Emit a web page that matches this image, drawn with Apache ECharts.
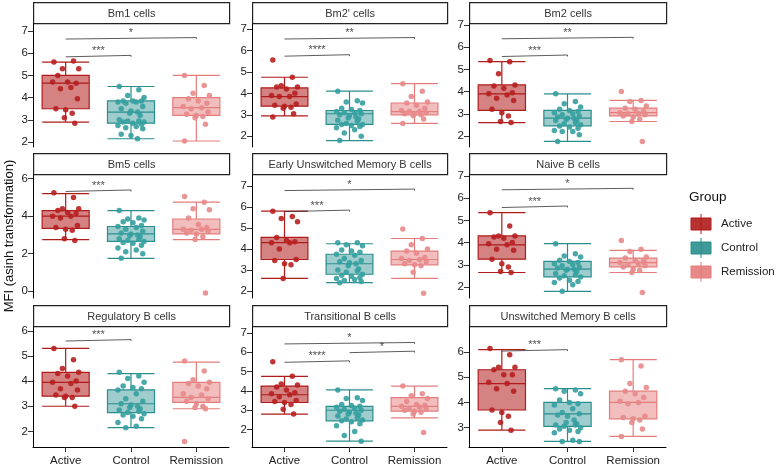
<!DOCTYPE html>
<html>
<head>
<meta charset="utf-8">
<script src="https://cdn.jsdelivr.net/npm/echarts@6/dist/echarts.min.js"></script>
<style>html,body{margin:0;background:#fff}#chart{width:778px;height:467px}</style>
</head>
<body>
<div id="chart"></div>
<script>
// 群と色
const groups = ['Active', 'Control', 'Remission'];
const panelTitles = ['Bm1 cells', "Bm2' cells", 'Bm2 cells', 'Bm5 cells', 'Early Unswitched Memory B cells', 'Naive B cells', 'Regulatory B cells', 'Transitional B cells', 'Unswitched Memory B cells'];

// 各パネルの点（Active, Control, Remission）
const ptsBm1 = [
  [5.6,5.65,5.3,5.3,5.0,4.7,4.65,4.7,4.45,4.4,3.95,3.5,3.45,3.3,3.1,2.85],
  [4.5,4.35,4.1,4.0,3.85,3.85,3.85,3.8,3.8,3.75,3.6,3.5,3.4,3.35,3.3,3.2,3.0,2.95,2.95,2.9,2.9,2.85,2.8,2.75,2.7,2.65,2.6,2.35,2.3,2.15],
  [5.0,4.55,4.2,4.1,3.95,3.85,3.75,3.6,3.55,3.5,3.35,3.25,3.2,3.15,3.1,2.8,2.05]];
const ptsBm2p = [
  [5.55,4.75,4.35,4.3,4.3,4.2,4.0,3.9,3.85,3.85,3.5,3.45,3.4,3.35,3.3,3.05,2.9],
  [4.1,3.65,3.6,3.55,3.3,3.25,3.2,3.15,3.1,3.1,3.05,3.0,2.95,2.9,2.85,2.8,2.75,2.7,2.6,2.55,2.55,2.5,2.45,2.4,2.3,2.15,2.0,1.8],
  [4.45,4.1,3.85,3.6,3.55,3.45,3.3,3.2,3.15,3.15,3.1,3.05,3.05,3.0,2.95,2.8,2.6]];
const ptsBm2 = [
  [5.4,5.35,4.8,4.3,4.25,4.15,3.95,3.9,3.85,3.7,3.6,3.2,3.05,2.9,2.65,2.6],
  [3.9,3.55,3.45,3.3,3.2,3.15,3.1,3.05,3.0,2.95,2.9,2.85,2.8,2.8,2.75,2.7,2.7,2.6,2.55,2.5,2.45,2.4,2.35,2.25,2.2,2.2,2.05,1.75],
  [4.0,3.6,3.55,3.35,3.25,3.2,3.1,3.05,3.0,3.0,2.95,2.9,2.85,2.75,2.65,1.75]];
const ptsBm5 = [
  [5.25,5.0,4.4,4.4,4.3,4.2,4.15,4.0,4.0,3.9,3.5,3.4,3.3,3.25,2.8,2.7],
  [4.3,3.9,3.85,3.8,3.7,3.65,3.5,3.45,3.4,3.3,3.2,3.1,3.05,3.0,2.95,2.9,2.8,2.75,2.7,2.65,2.6,2.55,2.45,2.3,2.2,2.1,2.0,1.75],
  [5.05,4.75,4.4,4.35,3.9,3.55,3.4,3.3,3.3,3.25,3.2,3.1,3.05,2.9,2.75,-0.1]];
const ptsEarly = [
  [5.8,5.55,5.45,5.3,4.55,4.4,4.35,4.3,4.3,4.0,3.5,3.45,3.3,3.25,2.6],
  [4.3,4.3,4.2,4.15,3.95,3.9,3.85,3.75,3.7,3.55,3.45,3.4,3.35,3.3,3.2,3.05,3.0,2.95,2.9,2.8,2.75,2.7,2.65,2.6,2.55,2.5,2.45,2.4],
  [4.95,4.5,4.2,4.0,3.9,3.8,3.6,3.55,3.5,3.45,3.4,3.3,3.25,3.2,2.9,1.9]];
const ptsNaive = [
  [5.35,4.75,4.3,4.3,4.25,4.2,4.0,3.95,3.9,3.7,3.65,3.25,3.05,2.9,2.7,2.65],
  [3.95,3.5,3.4,3.35,3.2,3.15,3.1,3.05,3.0,2.95,2.9,2.85,2.8,2.8,2.75,2.7,2.6,2.55,2.5,2.45,2.4,2.3,2.25,2.2,2.1,1.8],
  [4.1,3.7,3.6,3.35,3.3,3.2,3.15,3.1,3.05,3.0,2.95,2.9,2.8,2.75,2.65,1.75]];
const ptsReg = [
  [5.3,4.85,4.5,4.35,4.3,4.2,4.0,3.95,3.9,3.7,3.65,3.45,3.4,3.35,3.35,3.0],
  [4.35,4.2,4.1,3.95,3.8,3.75,3.7,3.65,3.5,3.3,3.2,3.1,3.05,3.0,2.95,2.9,2.85,2.8,2.75,2.7,2.65,2.6,2.5,2.35,2.2,2.15],
  [4.8,4.4,4.05,3.95,3.9,3.8,3.7,3.5,3.45,3.35,3.3,3.2,3.1,3.0,2.95,2.9,1.6]];
const ptsTrans = [
  [5.5,4.75,4.35,4.3,4.2,4.05,3.9,3.85,3.8,3.7,3.5,3.45,3.4,3.3,3.05,2.8],
  [4.05,3.65,3.6,3.5,3.3,3.25,3.2,3.15,3.1,3.05,3.0,2.95,2.9,2.85,2.8,2.75,2.7,2.6,2.55,2.5,2.45,2.4,2.3,2.2,1.9,1.7,1.4],
  [4.25,3.85,3.75,3.6,3.45,3.3,3.25,3.2,3.15,3.1,3.05,3.0,2.95,2.9,2.8,1.85]];
const ptsUnsw = [
  [6.15,5.9,5.4,5.4,5.3,5.1,5.1,4.8,4.75,4.55,4.45,3.7,3.6,3.45,3.2,2.9],
  [4.55,4.5,4.45,4.35,4.1,4.0,3.95,3.9,3.75,3.6,3.55,3.5,3.45,3.3,3.2,3.15,3.1,3.1,3.05,3.0,2.95,2.9,2.85,2.8,2.5,2.45,2.45],
  [5.7,5.45,4.75,4.6,4.45,4.35,4.2,4.05,4.0,3.95,3.45,3.4,3.35,3.3,3.2,2.95,2.65]];

// 箱ひげ [min, Q1, median, Q3, max]
const boxBm1 = [[2.9,3.5,4.65,5.0,5.6],[2.15,2.85,3.35,3.85,4.5],[2.05,3.2,3.55,4.0,5.0]];
const boxBm2p = [[2.95,3.4,3.85,4.25,4.75],[1.8,2.55,3.05,3.2,4.1],[2.6,3.0,3.15,3.55,4.45]];
const boxBm2 = [[2.6,3.15,3.9,4.3,5.35],[1.75,2.45,2.8,3.15,3.9],[2.65,2.9,3.05,3.25,3.6]];
const boxBm5 = [[2.75,3.35,4.0,4.3,5.2],[1.75,2.65,3.05,3.45,4.3],[2.75,3.05,3.3,3.85,4.75]];
const boxEarly = [[2.6,3.5,4.3,4.55,5.8],[2.4,2.8,3.3,3.75,4.25],[2.6,3.25,3.5,3.9,4.5]];
const boxNaive = [[2.65,3.25,3.9,4.3,5.35],[1.8,2.45,2.8,3.15,3.95],[2.65,2.9,3.1,3.3,3.65]];
const boxReg = [[3.0,3.4,3.95,4.35,5.3],[2.15,2.75,3.1,3.65,4.3],[2.9,3.15,3.35,3.95,4.75]];
const boxTrans = [[2.8,3.4,3.8,4.25,4.75],[1.4,2.45,3.0,3.2,4.05],[2.6,2.95,3.2,3.65,4.25]];
const boxUnsw = [[2.9,3.7,4.75,5.3,6.1],[2.45,3.05,3.55,4.0,4.55],[2.65,3.35,4.0,4.45,5.7]];

// 有意差 [群1, 群2, 高さ, ラベル]
const sigBm1 = [[0,1,5.9,'***'],[0,2,6.7,'*']];
const sigBm2p = [[0,1,5.8,'****'],[0,2,6.6,'**']];
const sigBm2 = [[0,1,5.65,'***'],[0,2,6.45,'**']];
const sigBm5 = [[0,1,5.4,'***']];
const sigEarly = [[0,1,5.85,'***'],[0,2,6.85,'*']];
const sigNaive = [[0,1,5.65,'***'],[0,2,6.45,'*']];
const sigReg = [[0,1,5.65,'***']];
const sigTrans = [[0,1,5.55,'****'],[0,2,6.5,'*'],[1,2,6.05,'*']];
const sigUnsw = [[0,1,6.1,'***']];

// y軸の範囲と目盛り
const yMin = [1.78,1.5,1.5,-0.37,1.67,1.5,1.38,1.1,2.23];
const yMax = [7.31,7.23,7.05,6.2,7.52,7.05,6.15,7.3,7.0];
const yTicks = [[2,3,4,5,6,7],[2,3,4,5,6,7],[2,3,4,5,6,7],[0,2,4,6],[2,3,4,5,6,7],[2,3,4,5,6,7],[2,3,4,5,6],[2,3,4,5,6,7],[3,4,5,6]];

// ジッター幅（固定）
const jitter = [-0.18,0.12,-0.05,0.2,-0.12,0.03,0.16,-0.2,0.08,-0.08,0.18,-0.15,0.0,0.1,-0.02,0.14];

const allPts = [ptsBm1, ptsBm2p, ptsBm2, ptsBm5, ptsEarly, ptsNaive, ptsReg, ptsTrans, ptsUnsw];
const allBox = [boxBm1, boxBm2p, boxBm2, boxBm5, boxEarly, boxNaive, boxReg, boxTrans, boxUnsw];
const allSig = [sigBm1, sigBm2p, sigBm2, sigBm5, sigEarly, sigNaive, sigReg, sigTrans, sigUnsw];

const lineCol = ['#B01B1B', '#2A8E8E', '#E57C7C'];
const fillCol = ['rgba(176,27,27,0.55)', 'rgba(42,142,142,0.45)', 'rgba(229,124,124,0.5)'];
const dotCol = ['#B82020', '#35A0A0', '#E88A8A'];

const colLeft = [33, 252, 469];
const colWidth = [196, 195, 197];
const rowTop = [24, 175, 327];
const rowBottom = [147, 298, 450];
const font = 'Liberation Sans, Arial, sans-serif';

const grid = [], xAxis = [], yAxis = [], series = [], graphic = [];

for (let p = 0; p < 9; p++) {
  const r = Math.floor(p / 3), c = p % 3;
  const bottomRow = r === 2;
  grid.push({ left: colLeft[c], width: colWidth[c], top: rowTop[r], height: rowBottom[r] - rowTop[r] });

  // 箱ひげ用のカテゴリ軸
  xAxis.push({
    type: 'category', gridIndex: p, data: groups, position: 'bottom',
    axisLine: { show: bottomRow, onZero: false, lineStyle: { color: '#000', width: 1 } },
    axisTick: { show: bottomRow, alignWithLabel: true, lineStyle: { color: '#333' } },
    axisLabel: { show: bottomRow, interval: 0, color: '#222', fontSize: 11.5, fontFamily: font }
  });
  // 点と有意差線用の数値軸
  xAxis.push({ type: 'value', gridIndex: p, min: -0.5, max: 2.5, show: false, axisLine: { onZero: false } });

  yAxis.push({
    type: 'value', gridIndex: p, min: yMin[p], max: yMax[p], position: 'left',
    splitLine: { show: false },
    axisLine: { show: true, onZero: false, lineStyle: { color: '#000', width: 1 } },
    axisTick: { show: true, customValues: yTicks[p], lineStyle: { color: '#333' } },
    axisLabel: { customValues: yTicks[p], color: '#222', fontSize: 11.5, fontFamily: font, margin: 5 }
  });

  // 箱ひげ
  series.push({
    type: 'boxplot', xAxisIndex: 2 * p, yAxisIndex: p, boxWidth: ['72%', '72%'],
    data: allBox[p].map((b, g) => ({
      value: b,
      itemStyle: { color: fillCol[g], borderColor: lineCol[g], borderWidth: 1.2 }
    })),
    z: 2
  });

  // 点
  allPts[p].forEach((vals, g) => {
    series.push({
      type: 'scatter', xAxisIndex: 2 * p + 1, yAxisIndex: p, symbolSize: 5.5,
      itemStyle: { color: dotCol[g], opacity: 0.9 },
      data: vals.map((v, i) => [g + jitter[i % jitter.length], v]), z: 3
    });
  });

  // 有意差の線と星
  const span = yMax[p] - yMin[p];
  allSig[p].forEach(s => {
    const tip = span * 0.012;
    series.push({
      type: 'line', xAxisIndex: 2 * p + 1, yAxisIndex: p, symbol: 'none',
      lineStyle: { color: '#333', width: 0.8 },
      data: [[s[0], s[2] - tip], [s[0], s[2]], [s[1], s[2]], [s[1], s[2] - tip]], z: 4
    });
    series.push({
      type: 'scatter', xAxisIndex: 2 * p + 1, yAxisIndex: p, symbolSize: 0,
      label: { show: true, formatter: s[3], position: 'top', distance: -1, color: '#222', fontSize: 11, fontFamily: font },
      data: [[(s[0] + s[1]) / 2, s[2]]], z: 4
    });
  });

  // パネル見出し
  graphic.push({
    type: 'group', left: colLeft[c], top: rowTop[r] - 22,
    children: [
      { type: 'rect', shape: { x: 0, y: 0, width: colWidth[c], height: 21 }, style: { fill: '#fff', stroke: '#222', lineWidth: 1.2 } },
      { type: 'text', x: colWidth[c] / 2, y: 11, style: { text: panelTitles[p], fill: '#333', font: '11px ' + font, align: 'center', verticalAlign: 'middle' } }
    ]
  });
}

// y軸タイトル
graphic.push({ type: 'text', x: 9, y: 236, rotation: Math.PI / 2, style: { text: 'MFI (asinh transformation)', fill: '#111', font: '13px ' + font, align: 'center', verticalAlign: 'middle' } });

// 凡例
graphic.push({ type: 'text', left: 689, top: 190, style: { text: 'Group', fill: '#111', font: '13.5px ' + font } });
groups.forEach((g, i) => {
  const y = 224 + i * 24;
  graphic.push({ type: 'line', shape: { x1: 701, y1: y - 10, x2: 701, y2: y + 10 }, style: { stroke: lineCol[i], lineWidth: 1 } });
  graphic.push({ type: 'rect', shape: { x: 691, y: y - 6, width: 20, height: 12 }, style: { fill: fillCol[i].replace(/0\.\d+\)/, '0.9)'), stroke: lineCol[i], lineWidth: 1 } });
  graphic.push({ type: 'text', x: 721, y: y, style: { text: g, fill: '#222', font: '11.5px ' + font, verticalAlign: 'middle' } });
});

const chart = echarts.init(document.getElementById('chart'));
chart.setOption({ animation: false, grid, xAxis, yAxis, series, graphic });
</script>
</body>
</html>
